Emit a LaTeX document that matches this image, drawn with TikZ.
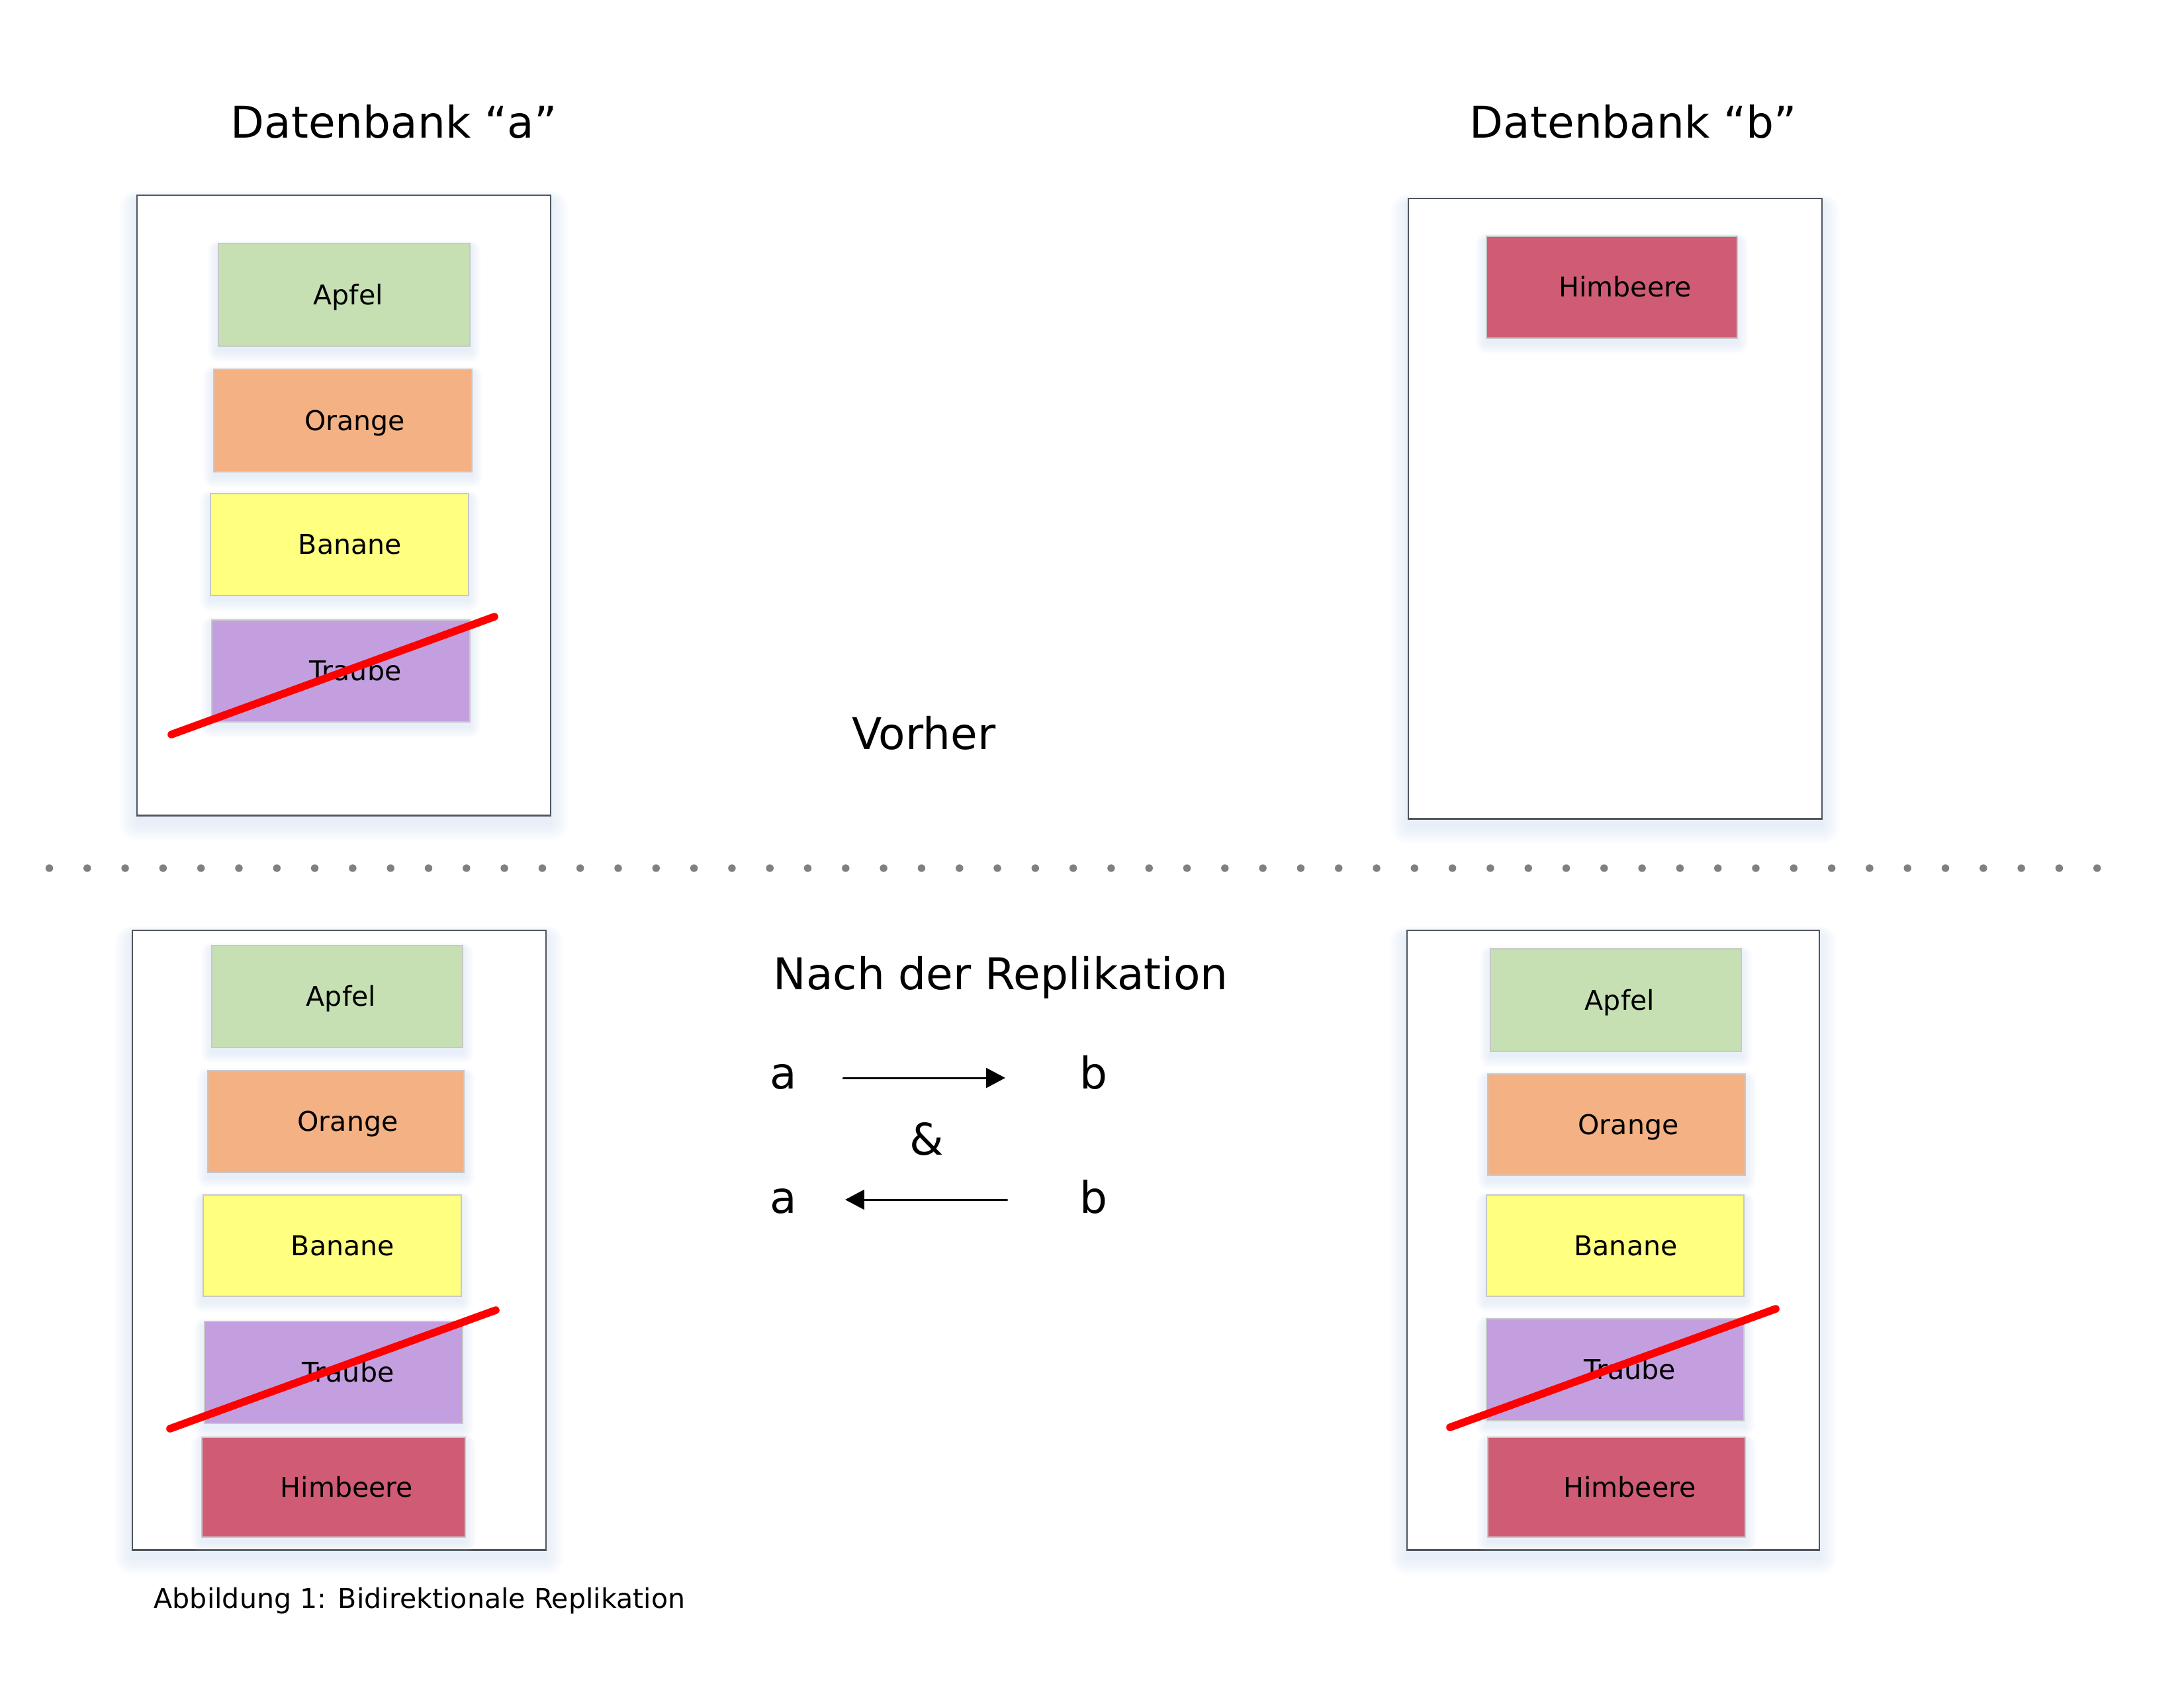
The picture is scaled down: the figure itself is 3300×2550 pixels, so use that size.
\documentclass[tikz,border=0pt]{standalone}
\usepackage{fontspec}
\setmainfont{DejaVu Sans}
\usetikzlibrary{arrows.meta}
\definecolor{apfelc}{HTML}{C6E0B4}
\definecolor{orangec}{HTML}{F4B183}
\definecolor{bananec}{HTML}{FFFF80}
\definecolor{traubec}{HTML}{C49FE0}
\definecolor{himbc}{HTML}{CF5C74}
\definecolor{glowc}{HTML}{BDD3EE}
\definecolor{framec}{HTML}{50565E}
\definecolor{edgec}{HTML}{C8C8C8}
\definecolor{dotc}{HTML}{808080}
\newcommand{\bigtext}{\fontsize{18.8pt}{22pt}\selectfont}
\newcommand{\smalltext}{\fontsize{11.7pt}{14pt}\selectfont}
\newcommand{\glowrect}[5]{%
  \foreach \k in {1,0.85,0.7,0.55,0.4,0.25,0.1}{%
    \fill[glowc,opacity=0.05,rounded corners=#5*\k*0.01cm] ({#1-#3-#5*\k},{#2-#4-#5*\k*0.6+0.35*#5}) rectangle ({#1+#3+#5*\k},{#2+#4+#5*\k+0.45*#5});}}
\newcommand{\fruit}[8]{%
  \glowrect{#2}{#3}{#4*50}{#5*50}{16}
  \node[fruitbox,fill=#6,minimum width=#4cm,minimum height=#5cm] (#1) at (#2,#3) {\hspace*{#7cm}#8};}
\newcommand{\dbbox}[5]{%
  \glowrect{#2}{#3}{#4*50}{#5*50}{26}
  \node[dbframe,minimum width=#4cm,minimum height=#5cm] (#1) at (#2,#3) {};}
\tikzset{
  fruitbox/.style={rectangle,draw=edgec,line width=0.4pt,inner sep=0pt,text height=8.5pt,text depth=0pt,font=\smalltext},
  dbframe/.style={rectangle,draw=framec,line width=0.7pt,fill=white,inner sep=0pt},
  bigt/.style={font=\bigtext,inner sep=0pt,anchor=base},
  smallt/.style={font=\smalltext,inner sep=0pt},
  strike/.style={red,line width=3.3pt,line cap=round},
  arr/.style={line width=0.85pt,line cap=round,-{Triangle[length=8.2pt,width=8.5pt]}}
}
\begin{document}
\begin{tikzpicture}[x=0.01cm,y=-0.01cm]
\fill[white] (0,0) rectangle (3300,2550);
\useasboundingbox (0,0) rectangle (3300,2550);
% titles
\node[bigt] (titleA) at (595,208) {Datenbank “a”};
\node[bigt] (titleB) at (2468,208) {Datenbank “b”};
% top databases
\dbbox{dbAtop}{519.5}{763.5}{6.25}{9.37}
\dbbox{dbBtop}{2440.5}{768.5}{6.25}{9.37}
\fruit{apfelAt}{520}{445.5}{3.80}{1.55}{apfelc}{0.12}{Apfel}
\fruit{orangeAt}{518}{635.5}{3.90}{1.55}{orangec}{0.36}{Orange}
\fruit{bananeAt}{513}{823}{3.90}{1.54}{bananec}{0.32}{Banane}
\fruit{traubeAt}{515}{1014}{3.90}{1.54}{traubec}{0.44}{Traube}
\draw[strike] (259,1110) -- (747,932);
\fruit{himbBt}{2435.5}{434}{3.79}{1.54}{himbc}{0.40}{Himbeere}
\node[bigt] (vorher) at (1396,1132) {Vorher};
% separator
\foreach \i in {0,...,54} \fill[dotc] ({74.5+57.3*\i},1312) circle[radius=0.057cm];
% bottom databases
\dbbox{dbAbot}{512.5}{1874}{6.25}{9.36}
\dbbox{dbBbot}{2437.5}{1874}{6.23}{9.36}
\fruit{apfelAb}{509.5}{1506}{3.79}{1.54}{apfelc}{0.12}{Apfel}
\fruit{orangeAb}{507.5}{1695}{3.87}{1.54}{orangec}{0.36}{Orange}
\fruit{bananeAb}{502}{1882.5}{3.90}{1.53}{bananec}{0.32}{Banane}
\fruit{traubeAb}{504}{2074}{3.90}{1.54}{traubec}{0.44}{Traube}
\fruit{himbAb}{504}{2247.5}{3.98}{1.51}{himbc}{0.40}{Himbeere}
\draw[strike] (257,2159) -- (749,1980);
\fruit{apfelBb}{2441.5}{1511.5}{3.79}{1.55}{apfelc}{0.12}{Apfel}
\fruit{orangeBb}{2442.5}{1699.5}{3.89}{1.53}{orangec}{0.36}{Orange}
\fruit{bananeBb}{2440.5}{1882.5}{3.89}{1.53}{bananec}{0.32}{Banane}
\fruit{traubeBb}{2440.5}{2070}{3.89}{1.54}{traubec}{0.44}{Traube}
\fruit{himbBb}{2442.5}{2247.5}{3.89}{1.51}{himbc}{0.40}{Himbeere}
\draw[strike] (2191,2157) -- (2683,1978);
% replication
\node[bigt] (nach) at (1512,1495) {Nach der Replikation};
\node[bigt] (a1) at (1184,1645) {a};
\node[bigt] (b1) at (1652,1645) {b};
\node[bigt] (amp) at (1400,1745) {\&};
\node[bigt] (a2) at (1184,1833) {a};
\node[bigt] (b2) at (1652,1833) {b};
\draw[arr] ([xshift=0.9cm,yshift=0.16cm]a1.base) -- ([xshift=-1.33cm,yshift=0.16cm]b1.base);
\draw[arr] ([xshift=-1.30cm,yshift=0.20cm]b2.base) -- ([xshift=0.93cm,yshift=0.20cm]a2.base);
% caption
\node[smallt,anchor=base west] (caption) at (232,2430) {Abbildung 1: Bidirektionale Replikation};
\end{tikzpicture}
\end{document}
